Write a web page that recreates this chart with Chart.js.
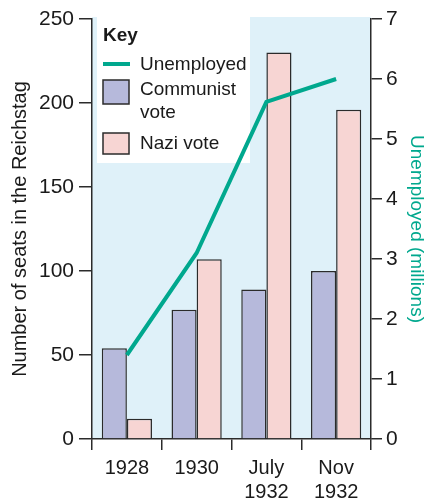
<!DOCTYPE html>
<html>
<head>
<meta charset="utf-8">
<script src="https://cdn.jsdelivr.net/npm/chart.js@4"></script>
<style>
  html, body { margin: 0; padding: 0; background: #fff; }
  #wrap { width: 428px; height: 499px; position: relative; }
</style>
</head>
<body>
<div id="wrap"><canvas id="chart"></canvas></div>
<script>
const elections = [['1928'], ['1930'], ['July', '1932'], ['Nov', '1932']];
const communistSeats = [54, 77, 89, 100];
const naziSeats = [12, 107, 230, 196];
const unemployedMillions = [1.4, 3.1, 5.62, 6.0];
const seatTicks = [0, 50, 100, 150, 200, 250];
const unemployedTicks = [0, 1, 2, 3, 4, 5, 6, 7];

const FONT = '"Liberation Sans", Arial, sans-serif';
const TEAL = '#00a88e';
const INK = '#2b2b2b';

// blue panel with the white key box cut out of its top-left corner
const panelBg = {
  id: 'panelBg',
  beforeDraw(chart) {
    const { ctx, chartArea: a } = chart;
    ctx.save();
    ctx.fillStyle = '#dff1f9';
    ctx.fillRect(a.left, a.top - 2, a.right - a.left, a.bottom - a.top + 2);
    ctx.fillStyle = '#fff';
    ctx.fillRect(a.left + 5, a.top - 2, 153, 146);
    ctx.restore();
  }
};

const keyBox = {
  id: 'keyBox',
  afterDraw(chart) {
    const { ctx, chartArea: a } = chart;
    const x = a.left + 11;
    ctx.save();
    ctx.textBaseline = 'middle';
    ctx.fillStyle = '#1a1a1a';
    ctx.font = 'bold 19px ' + FONT;
    ctx.fillText('Key', x, a.top + 17);

    ctx.strokeStyle = TEAL;
    ctx.lineWidth = 4;
    ctx.beginPath();
    ctx.moveTo(x, a.top + 45);
    ctx.lineTo(x + 27, a.top + 45);
    ctx.stroke();

    ctx.lineWidth = 1.5;
    ctx.strokeStyle = INK;
    ctx.fillStyle = '#b6b9db';
    ctx.fillRect(x, a.top + 61, 26, 24);
    ctx.strokeRect(x, a.top + 61, 26, 24);
    ctx.fillStyle = '#f7d5d3';
    ctx.fillRect(x, a.top + 114, 26, 21);
    ctx.strokeRect(x, a.top + 114, 26, 21);

    ctx.fillStyle = '#1a1a1a';
    ctx.font = '19px ' + FONT;
    ctx.fillText('Unemployed', x + 37, a.top + 46);
    ctx.fillText('Communist', x + 37, a.top + 71);
    ctx.fillText('vote', x + 37, a.top + 94);
    ctx.fillText('Nazi vote', x + 37, a.top + 125);
    ctx.restore();
  }
};

new Chart(document.getElementById('chart'), {
  data: {
    labels: elections,
    datasets: [
      {
        type: 'line',
        label: 'Unemployed',
        data: unemployedMillions,
        yAxisID: 'y1',
        borderColor: TEAL,
        borderWidth: 4,
        pointRadius: 0,
        tension: 0
      },
      {
        type: 'bar',
        label: 'Communist vote',
        data: communistSeats,
        yAxisID: 'y',
        backgroundColor: '#b6b9db',
        borderColor: INK,
        borderWidth: 1.5,
        borderSkipped: 'bottom',
        categoryPercentage: 0.72,
        barPercentage: 1
      },
      {
        type: 'bar',
        label: 'Nazi vote',
        data: naziSeats,
        yAxisID: 'y',
        backgroundColor: '#f7d5d3',
        borderColor: INK,
        borderWidth: 1.5,
        borderSkipped: 'bottom',
        categoryPercentage: 0.72,
        barPercentage: 1
      }
    ]
  },
  options: {
    responsive: true,
    maintainAspectRatio: false,
    animation: false,
    layout: { padding: { top: 19, left: 0, right: 0, bottom: 0 } },
    plugins: { legend: { display: false }, tooltip: { enabled: false } },
    scales: {
      x: {
        offset: true,
        afterFit: s => { s.height = 60; },
        grid: { offset: true, drawOnChartArea: false, tickLength: 11, color: INK, lineWidth: 1.5 },
        border: { color: INK, width: 1.5 },
        ticks: { color: '#1a1a1a', font: { family: FONT, size: 20 }, padding: 6, maxRotation: 0 }
      },
      y: {
        position: 'left',
        min: 0,
        max: 250,
        afterFit: s => { s.width = 92; },
        afterBuildTicks: s => { s.ticks = seatTicks.map(v => ({ value: v })); },
        grid: { drawOnChartArea: false, tickLength: 13, color: INK, lineWidth: 1.5 },
        border: { color: INK, width: 1.5 },
        ticks: { color: '#1a1a1a', font: { family: FONT, size: 21 }, padding: 5 },
        title: {
          display: true,
          text: 'Number of seats in the Reichstag',
          color: '#1a1a1a',
          font: { family: FONT, size: 20 },
          padding: { top: 8, bottom: 0 }
        }
      },
      y1: {
        position: 'right',
        min: 0,
        max: 7,
        afterFit: s => { s.width = 57; },
        afterBuildTicks: s => { s.ticks = unemployedTicks.map(v => ({ value: v })); },
        grid: { drawOnChartArea: false, tickLength: 11, color: INK, lineWidth: 1.5 },
        border: { color: INK, width: 1.5 },
        ticks: { color: '#1a1a1a', font: { family: FONT, size: 21 }, padding: 4 },
        title: {
          display: true,
          text: 'Unemployed (millions)',
          color: TEAL,
          font: { family: FONT, size: 19 },
          padding: { top: 0, bottom: 0 }
        }
      }
    }
  },
  plugins: [panelBg, keyBox]
});
</script>
</body>
</html>
